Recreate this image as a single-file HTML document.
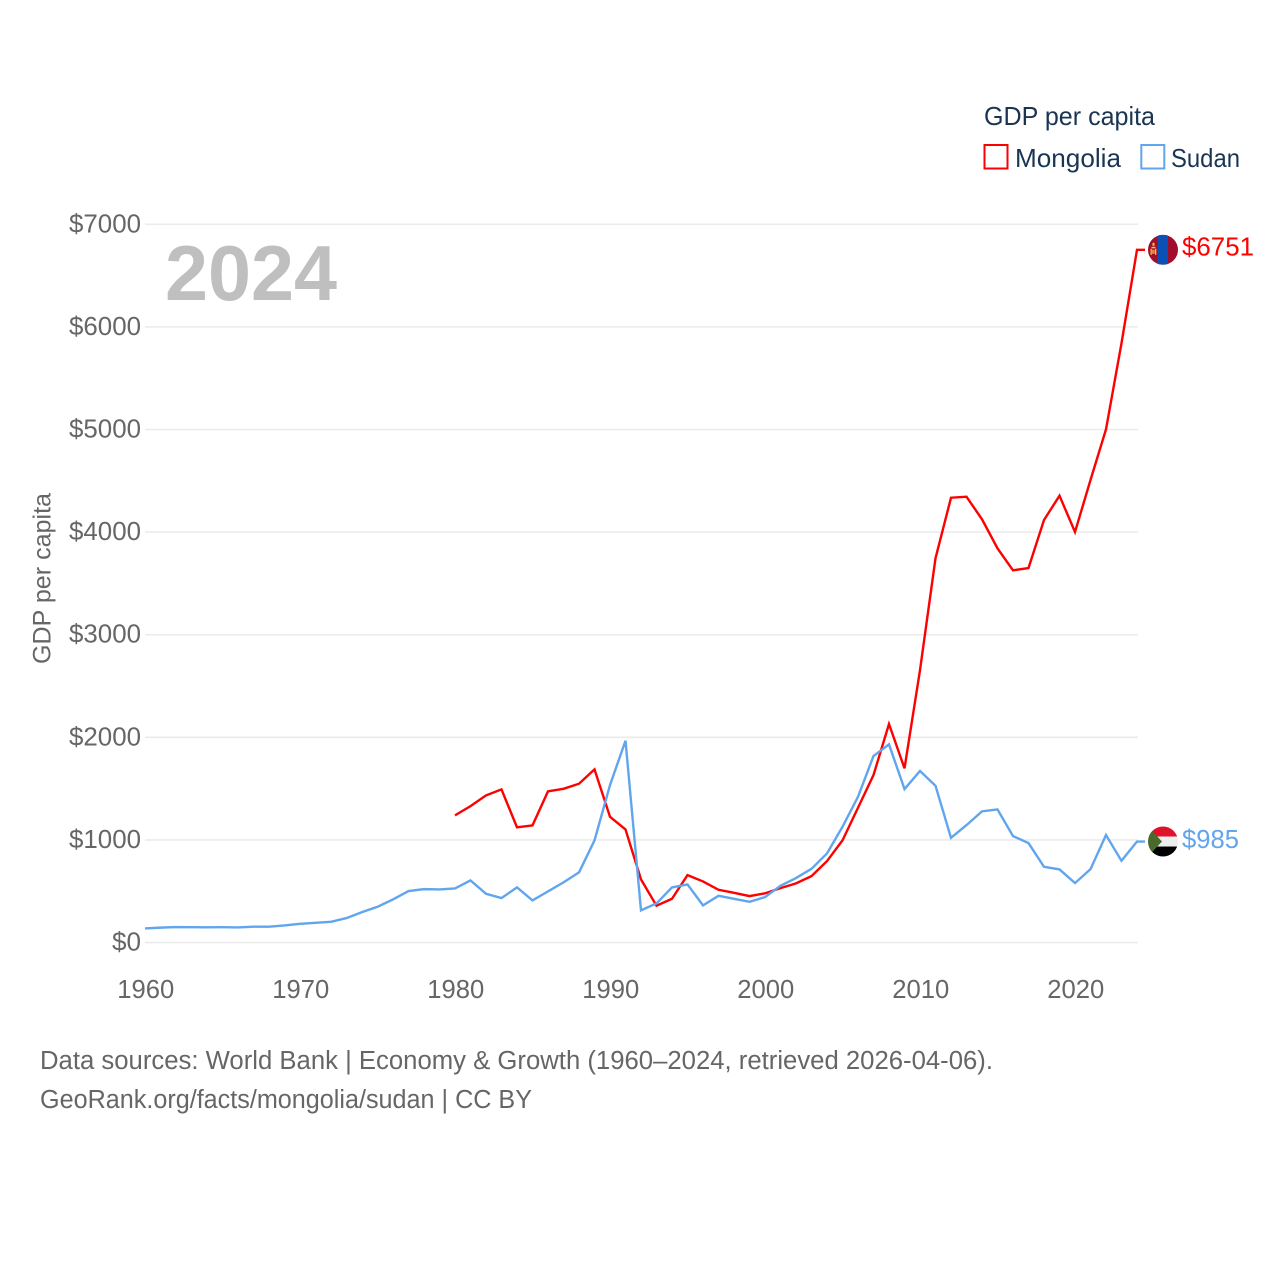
<!DOCTYPE html>
<html lang="en">
<head>
<meta charset="utf-8">
<title>GDP per capita: Mongolia and Sudan</title>
<style>
  html, body { margin: 0; padding: 0; background: #fff; }
  body { width: 1280px; height: 1280px; overflow: hidden; }
  svg { display: block; font-family: "Liberation Sans", sans-serif; }
</style>
</head>
<body>
<svg id="chart" xmlns="http://www.w3.org/2000/svg" width="1280" height="1280" viewBox="0 0 1280 1280">
  <defs>
    <clipPath id="flag-clip"><circle cx="0" cy="0" r="15"></circle></clipPath>
  </defs>
  <rect x="0" y="0" width="1280" height="1280" fill="#ffffff"></rect>
  <g id="grid"></g>
  <g id="y-ticks"></g>
  <g id="x-ticks"></g>
  <text x="165" y="300" font-size="78" font-weight="700" fill="#bfbfbf" textLength="172" lengthAdjust="spacingAndGlyphs">2024</text>
  <text transform="translate(50.5,664) rotate(-90)" font-size="25" fill="#666666" textLength="171" lengthAdjust="spacingAndGlyphs">GDP per capita</text>
  <g id="series"></g>

  <g id="flag-mongolia">
    <g clip-path="url(#flag-clip)">
      <rect x="-15" y="-15" width="30" height="30" fill="#9f0f2b"></rect>
      <rect x="-5.5" y="-15" width="10.5" height="30" fill="#0b50b4"></rect>
      <rect x="-11.5" y="-3" width="4" height="1.5" fill="#f5c542"></rect>
      <rect x="-10.5" y="-7" width="2" height="3" fill="#f5c542"></rect>
      <rect x="-12.5" y="-1" width="1.3" height="6" fill="#f5c542"></rect>
      <rect x="-8" y="-1" width="1.3" height="6" fill="#f5c542"></rect>
      <rect x="-11" y="0" width="2.8" height="4" fill="#f5c542" opacity="0.7"></rect>
    </g>
  </g>
  <g id="flag-sudan">
    <g clip-path="url(#flag-clip)">
      <rect x="-15" y="-15" width="30" height="10" fill="#e0112b"></rect>
      <rect x="-15" y="-5" width="30" height="10" fill="#eeeeee"></rect>
      <rect x="-15" y="5" width="30" height="10" fill="#000000"></rect>
      <path d="M-15,-15 L-1,0 L-15,15 Z" fill="#4a6a2c"></path>
    </g>
  </g>
  <text id="label-mongolia" x="1182" font-size="26" fill="#ff0000" textLength="72" lengthAdjust="spacingAndGlyphs"></text>
  <text id="label-sudan" x="1182" font-size="26" fill="#60a5ee" textLength="57" lengthAdjust="spacingAndGlyphs"></text>

  <g>
    <text x="984" y="125" font-size="26" fill="#1a3553" textLength="171" lengthAdjust="spacingAndGlyphs">GDP per capita</text>
    <g>
      <rect x="984.5" y="145" width="23" height="23.5" fill="none" stroke="#ff0000" stroke-width="2"></rect>
      <text x="1015" y="167" font-size="26" fill="#1a3553" textLength="106" lengthAdjust="spacingAndGlyphs">Mongolia</text>
    </g>
    <g>
      <rect x="1141.3" y="145" width="23" height="23.5" fill="none" stroke="#60a5ee" stroke-width="2"></rect>
      <text x="1171" y="167" font-size="26" fill="#1a3553" textLength="69" lengthAdjust="spacingAndGlyphs">Sudan</text>
    </g>
  </g>

  <text x="40" y="1069" font-size="25.5" fill="#666666" textLength="953" lengthAdjust="spacingAndGlyphs">Data sources: World Bank | Economy &amp; Growth (1960–2024, retrieved 2026-04-06).</text>
  <text x="40" y="1108" font-size="25.5" fill="#666666" textLength="492" lengthAdjust="spacingAndGlyphs">GeoRank.org/facts/mongolia/sudan | CC BY</text>
</svg>

<script>
const yTickValues = [0, 1000, 2000, 3000, 4000, 5000, 6000, 7000];
const yTickLabels = ["$0", "$1000", "$2000", "$3000", "$4000", "$5000", "$6000", "$7000"];
const xTickYears = [1960, 1970, 1980, 1990, 2000, 2010, 2020];
const xTickLabels = ["1960", "1970", "1980", "1990", "2000", "2010", "2020"];
const sudanStartYear = 1960;
const sudanValues = [138, 146, 151, 150, 149, 150, 148, 155, 155, 167, 183, 193, 203, 239, 297, 349, 421, 502, 521, 518, 528, 606, 476, 434, 538, 411, 499, 587, 684, 996, 1535, 1967, 314, 382, 538, 567, 363, 456, 427, 398, 443, 554, 629, 719, 869, 1129, 1421, 1818, 1932, 1496, 1672, 1528, 1021, 1145, 1279, 1298, 1038, 970, 739, 713, 580, 716, 1048, 797, 985];
const mongoliaStartYear = 1980;
const mongoliaValues = [1240, 1330, 1434, 1493, 1123, 1142, 1474, 1499, 1548, 1688, 1226, 1103, 616, 359, 427, 658, 596, 515, 485, 453, 480, 531, 577, 648, 794, 996, 1314, 1633, 2130, 1698, 2655, 3745, 4335, 4345, 4125, 3842, 3628, 3650, 4118, 4355, 4001, 4508, 5002, 5841, 6751];

const SVG_NS = "http://www.w3.org/2000/svg";
function xScale(year) { return 145 + (year - 1960) * 15.5; }
function yScale(value) { return 942.6 - value * 0.10262; }
function make(tag) { return document.createElementNS(SVG_NS, tag); }

const gridGroup = document.getElementById("grid");
const yTickGroup = document.getElementById("y-ticks");
yTickValues.forEach(function (v, i) {
  const line = make("line");
  
  
  line.setAttribute("x1", 145);
  line.setAttribute("x2", 1138);
  line.setAttribute("y1", yScale(v));
  line.setAttribute("y2", yScale(v));
  line.setAttribute("stroke", "#ebebeb");
  line.setAttribute("stroke-width", 1.6);
  gridGroup.appendChild(line);

  const label = make("text");
  
  
  label.setAttribute("x", 141);
  label.setAttribute("y", yScale(v) + 8);
  label.setAttribute("text-anchor", "end");
  label.setAttribute("font-size", 26);
  label.setAttribute("fill", "#666666");
  label.setAttribute("textLength", yTickLabels[i].length === 2 ? 29 : 72);
  label.setAttribute("lengthAdjust", "spacingAndGlyphs");
  label.textContent = yTickLabels[i];
  yTickGroup.appendChild(label);
});

const xTickGroup = document.getElementById("x-ticks");
xTickYears.forEach(function (year, i) {
  const label = make("text");
  
  
  label.setAttribute("x", xScale(year) + 0.8);
  label.setAttribute("y", 998);
  label.setAttribute("text-anchor", "middle");
  label.setAttribute("font-size", 26);
  label.setAttribute("fill", "#666666");
  label.setAttribute("textLength", 57);
  label.setAttribute("lengthAdjust", "spacingAndGlyphs");
  label.textContent = xTickLabels[i];
  xTickGroup.appendChild(label);
});

function linePoints(values, startYear) {
  const pts = values.map(function (v, i) {
    return xScale(startYear + i).toFixed(2) + "," + yScale(v).toFixed(2);
  });
  const last = values[values.length - 1];
  const lastYear = startYear + values.length - 1;
  pts.push((xScale(lastYear) + 8).toFixed(2) + "," + yScale(last).toFixed(2));
  return pts.join(" ");
}

const seriesGroup = document.getElementById("series");

const mongoliaLine = make("polyline");


mongoliaLine.setAttribute("points", linePoints(mongoliaValues, mongoliaStartYear));
mongoliaLine.setAttribute("fill", "none");
mongoliaLine.setAttribute("stroke", "#ff0000");
mongoliaLine.setAttribute("stroke-width", 2.4);
seriesGroup.appendChild(mongoliaLine);

const sudanLine = make("polyline");


sudanLine.setAttribute("points", linePoints(sudanValues, sudanStartYear));
sudanLine.setAttribute("fill", "none");
sudanLine.setAttribute("stroke", "#60a5ee");
sudanLine.setAttribute("stroke-width", 2.4);
seriesGroup.appendChild(sudanLine);

const mongoliaLast = mongoliaValues[mongoliaValues.length - 1];
const sudanLast = sudanValues[sudanValues.length - 1];
document.getElementById("flag-mongolia").setAttribute("transform", "translate(1163," + yScale(mongoliaLast) + ")");
document.getElementById("flag-sudan").setAttribute("transform", "translate(1163," + yScale(sudanLast) + ")");
const mongoliaLabel = document.getElementById("label-mongolia");
mongoliaLabel.setAttribute("y", yScale(mongoliaLast) + 5.5);
mongoliaLabel.textContent = "$" + mongoliaLast;
const sudanLabel = document.getElementById("label-sudan");
sudanLabel.setAttribute("y", yScale(sudanLast) + 6.5);
sudanLabel.textContent = "$" + sudanLast;
</script>
</body>
</html>
